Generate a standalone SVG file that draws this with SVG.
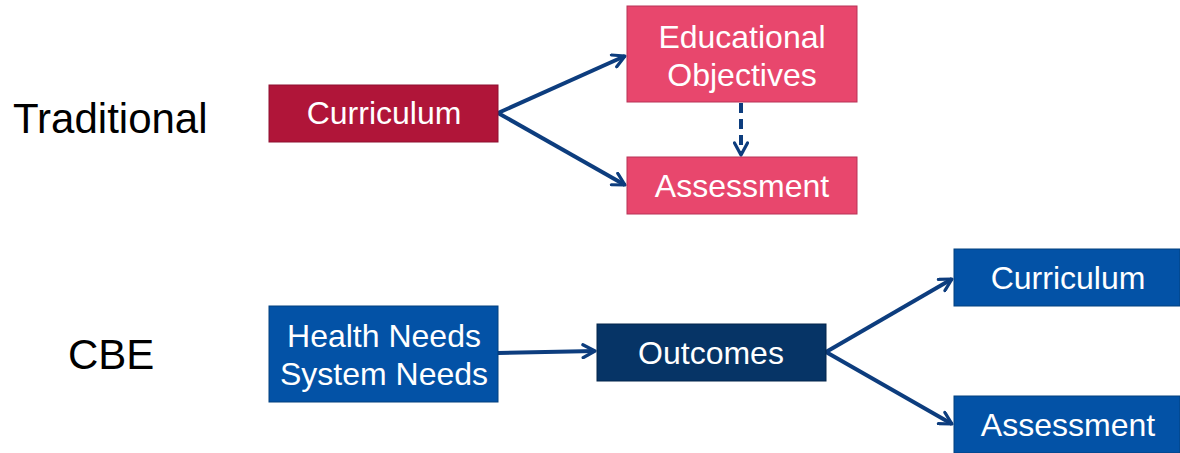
<svg xmlns="http://www.w3.org/2000/svg" width="1180" height="453" viewBox="0 0 1180 453">
<style>
.lbl{font-family:"Liberation Sans",Arial,sans-serif;fill:#000;font-size:42px}
.t{font-family:"Liberation Sans",Arial,sans-serif;fill:#fff;font-size:32px;text-anchor:middle;dominant-baseline:central}
.c{fill:none;stroke:#0D3D7E;stroke-width:4;marker-end:url(#ah)}
.crim{fill:#B01539;stroke:#8E1030;stroke-width:1}
.pink{fill:#E8476D;stroke:#B83356;stroke-width:1}
.blue{fill:#0352A6;stroke:#03407F;stroke-width:1}
.navy{fill:#063466;stroke:#03254A;stroke-width:1}
</style>
<defs>
<marker id="ah" viewBox="0 0 16 16" refX="14" refY="8" markerWidth="16" markerHeight="16" markerUnits="userSpaceOnUse" orient="auto">
<path d="M2,1.5 L14,8 L2,14.5" fill="none" stroke="#0D3D7E" stroke-width="3.2" stroke-linecap="round" stroke-linejoin="round"/>
</marker>
</defs>
<rect width="1180" height="453" fill="#fff"/>
<text class="lbl" x="13" y="133">Traditional</text>
<text class="lbl" x="68" y="369">CBE</text>
<g id="connectors">
<line class="c" x1="498" y1="113" x2="625" y2="56"/>
<line class="c" x1="498" y1="113" x2="625" y2="185"/>
<line class="c" x1="741" y1="103" x2="741" y2="155" stroke-dasharray="10,6"/>
<line class="c" x1="498" y1="353" x2="595" y2="351"/>
<line class="c" x1="826" y1="352" x2="952" y2="279"/>
<line class="c" x1="826" y1="352" x2="952" y2="424"/>
</g>
<g id="trad-curriculum"><rect class="crim" x="269" y="85" width="229" height="57"/><text class="t" x="384" y="113">Curriculum</text></g>
<g id="edu-objectives"><rect class="pink" x="627" y="6" width="230" height="96"/><text class="t" x="742" y="37">Educational</text><text class="t" x="742" y="75">Objectives</text></g>
<g id="trad-assessment"><rect class="pink" x="627" y="157" width="230" height="57"/><text class="t" x="742" y="186">Assessment</text></g>
<g id="needs"><rect class="blue" x="269" y="306" width="229" height="96"/><text class="t" x="384" y="336">Health Needs</text><text class="t" x="384" y="374">System Needs</text></g>
<g id="outcomes"><rect class="navy" x="597" y="324" width="229" height="57"/><text class="t" x="711" y="353">Outcomes</text></g>
<g id="cbe-curriculum"><rect class="blue" x="954" y="249" width="226" height="57"/><text class="t" x="1068" y="278">Curriculum</text></g>
<g id="cbe-assessment"><rect class="blue" x="954" y="396" width="226" height="57"/><text class="t" x="1068" y="425">Assessment</text></g>
</svg>
